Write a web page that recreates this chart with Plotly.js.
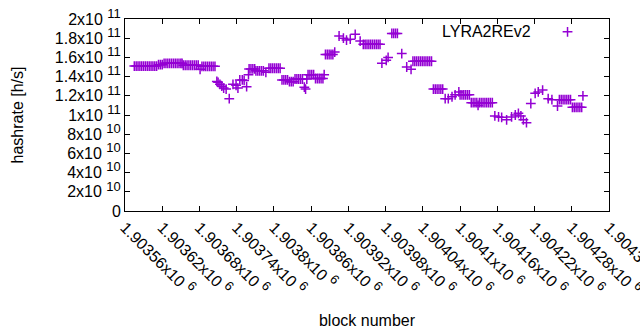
<!DOCTYPE html>
<html>
<head>
<meta charset="utf-8">
<script src="https://cdn.plot.ly/plotly-3.0.1.min.js"></script>
<style>html,body{margin:0;padding:0;background:#fff;}#chart{width:640px;height:330px;}</style>
</head>
<body>
<div id="chart"></div>
<script>
const blocks = [
1903575,1903578,1903581,1903584,1903587,1903590,1903593,1903596,1903599,1903602,1903605,1903608,1903611,
1903614,1903617,1903620,
1903623,1903626,1903629,1903632,1903635,1903638,1903641,1903644,1903647,1903650,1903652,
1903654,1903657,1903660,1903663,1903666,1903669,1903672,1903675,1903678,
1903681,
1903684,1903687,1903690,1903693,1903696,1903699,1903702,1903705,
1903708,1903710,1903713,1903716,1903719,1903723,1903728,1903734,1903739,1903742,1903745,1903749,1903752,1903756,1903759,
1903760,1903763,1903766,1903769,
1903771,1903774,1903777,1903780,1903783,
1903787,
1903792,1903795,1903798,1903801,1903804,1903807,1903810,
1903813,1903816,1903819,1903822,
1903825,1903828,1903831,
1903834,1903837,1903840,1903843,1903846,
1903849,1903851,1903853,
1903855,1903858,1903861,1903864,
1903867,1903870,1903873,1903876,1903879,
1903881,
1903883,1903886,1903889,1903892,1903895,
1903898,1903905,1903912,1903917,1903923,1903931,1903939,
1903944,1903947,1903950,1903953,1903956,1903959,1903962,1903965,1903968,1903971,
1903974,1903981,1903984,
1903990,1903993,1903996,1903999,
1904006,1904014,1904021,
1904024,1904027,1904030,1904033,1904036,1904039,1904042,1904045,1904048,1904051,1904054,
1904057,1904060,1904063,1904066,1904069,1904072,
1904076,1904081,1904087,1904092,1904098,
1904100,1904103,1904106,1904109,1904112,1904115,
1904118,1904121,1904124,1904127,1904129,1904131,1904134,1904137,1904140,1904143,1904146,1904149,1904152,
1904156,1904162,1904167,1904175,1904183,1904189,1904194,1904198,1904202,1904207,
1904214,1904221,1904226,1904233,1904242,1904248,1904257,
1904260,1904263,1904266,1904269,1904272,1904275,1904278,
1904281,1904284,1904287,1904290,1904293,1904296,
1904298
];
const hashrate = [
1.51e11,1.51e11,1.51e11,1.51e11,1.51e11,1.51e11,1.51e11,1.51e11,1.51e11,1.51e11,1.51e11,1.51e11,1.51e11,
1.524e11,1.524e11,1.524e11,
1.538e11,1.538e11,1.538e11,1.538e11,1.538e11,1.538e11,1.538e11,1.538e11,1.538e11,1.538e11,1.538e11,
1.518e11,1.518e11,1.518e11,1.518e11,1.518e11,1.518e11,1.518e11,1.518e11,1.518e11,
1.476e11,
1.507e11,1.507e11,1.507e11,1.507e11,1.507e11,1.507e11,1.507e11,1.507e11,
1.35e11,1.34e11,1.32e11,1.30e11,1.28e11,1.27e11,1.17e11,1.32e11,1.31e11,1.28e11,1.365e11,1.365e11,1.36e11,1.295e11,1.42e11,
1.48e11,1.48e11,1.48e11,1.48e11,
1.46e11,1.46e11,1.46e11,1.46e11,1.46e11,
1.445e11,
1.487e11,1.487e11,1.487e11,1.487e11,1.487e11,1.487e11,1.487e11,
1.365e11,1.365e11,1.365e11,1.365e11,
1.347e11,1.347e11,1.347e11,
1.375e11,1.375e11,1.375e11,1.375e11,1.375e11,
1.29e11,1.27e11,1.375e11,
1.42e11,1.42e11,1.42e11,1.42e11,
1.38e11,1.38e11,1.38e11,1.38e11,1.38e11,
1.42e11,
1.63e11,1.63e11,1.63e11,1.63e11,1.63e11,
1.655e11,1.823e11,1.80e11,1.78e11,1.79e11,1.84e11,1.77e11,
1.736e11,1.736e11,1.736e11,1.736e11,1.736e11,1.736e11,1.736e11,1.736e11,1.736e11,1.736e11,
1.54e11,1.57e11,1.60e11,
1.85e11,1.85e11,1.85e11,1.85e11,
1.64e11,1.50e11,1.476e11,
1.56e11,1.56e11,1.56e11,1.56e11,1.56e11,1.56e11,1.56e11,1.56e11,1.56e11,1.56e11,1.56e11,
1.27e11,1.27e11,1.27e11,1.27e11,1.27e11,1.27e11,
1.17e11,1.17e11,1.19e11,1.21e11,1.24e11,
1.21e11,1.21e11,1.21e11,1.21e11,1.21e11,1.21e11,
1.128e11,1.128e11,1.128e11,1.128e11,1.10e11,1.128e11,1.128e11,1.128e11,1.128e11,1.128e11,1.128e11,1.128e11,1.128e11,
0.99e11,0.98e11,0.976e11,0.95e11,0.98e11,1.00e11,1.017e11,0.99e11,0.95e11,0.92e11,
1.12e11,1.226e11,1.24e11,1.26e11,1.17e11,1.16e11,1.094e11,
1.16e11,1.16e11,1.16e11,1.16e11,1.16e11,1.16e11,1.16e11,
1.08e11,1.08e11,1.08e11,1.08e11,1.08e11,1.08e11,
1.20e11
];
const seriesName = "LYRA2REv2";
const xTickVals = [1903560,1903620,1903680,1903740,1903800,1903860,1903920,1903980,1904040,1904100,1904160,1904220,1904280,1904340];
const xTickMant = ["1.90356","1.90362","1.90368","1.90374","1.9038","1.90386","1.90392","1.90398","1.90404","1.9041","1.90416","1.90422","1.90428","1.90434"];
const xTickExp = "6";
const yTickVals = [0,2e10,4e10,6e10,8e10,1e11,1.2e11,1.4e11,1.6e11,1.8e11,2e11];
const yTickMant = ["0","2","4","6","8","1","1.2","1.4","1.6","1.8","2"];
const yTickExp = ["","10","10","10","10","11","11","11","11","11","11"];

const sup = e => "x10 <sup><span style=\"font-size:13px\">" + e + "</span></sup>";
const font = {family: "Liberation Sans, Arial, sans-serif", size: 16, color: "#000"};
const trace = {
  x: blocks, y: hashrate, type: "scatter", mode: "markers", name: " ",
  marker: {symbol: "cross-thin", size: 7, color: "#9400D3", line: {color: "#9400D3", width: 1.5}},
  showlegend: true
};
const axisCommon = {
  showline: true, linecolor: "#000", linewidth: 1, mirror: "allticks",
  ticks: "inside", ticklen: 5, tickcolor: "#000", tickwidth: 1,
  showgrid: false, zeroline: false, tickfont: font
};
const layout = {
  width: 640, height: 330,
  margin: {l: 125, r: 31, t: 19, b: 119},
  paper_bgcolor: "#fff", plot_bgcolor: "#fff",
  font: font,
  xaxis: Object.assign({}, axisCommon, {
    range: [1903560, 1904340], tickmode: "array", tickvals: xTickVals,
    ticktext: xTickMant.map(m => m + sup(xTickExp)), tickangle: 45,
    ticklabeloverflow: "allow",
    title: {text: "block number", font: font, standoff: 17}
  }),
  yaxis: Object.assign({}, axisCommon, {
    range: [0, 2e11], tickmode: "array", tickvals: yTickVals,
    ticktext: yTickMant.map((m, i) => yTickExp[i] ? m + sup(yTickExp[i]) : m),
    title: {text: "hashrate [h/s]", font: font, standoff: 27}
  }),
  showlegend: true,
  legend: {x: 0.873, y: 1.021, xanchor: "left", yanchor: "top", bgcolor: "rgba(0,0,0,0)", font: font, itemwidth: 30},
  annotations: [{
    text: seriesName, xref: "paper", yref: "paper", x: 0.843, y: 0.9375,
    xanchor: "right", yanchor: "middle", showarrow: false, font: font
  }]
};
Plotly.newPlot("chart", [trace], layout, {displayModeBar: false, staticPlot: true});
</script>
</body>
</html>
